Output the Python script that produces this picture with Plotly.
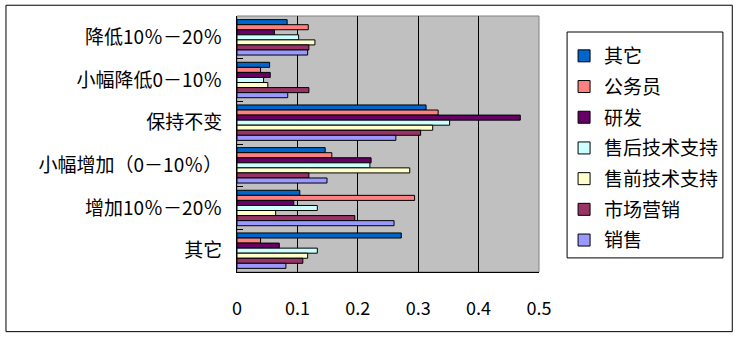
import plotly.graph_objects as go

categories = ["降低10％－20％", "小幅降低0－10％", "保持不变", "小幅增加（0－10％）", "增加10％－20％", "其它"]
series_names = ["其它", "公务员", "研发", "售后技术支持", "售前技术支持", "市场营销", "销售"]
colors = ["#0066CC", "#FF8080", "#660066", "#CCFFFF", "#FFFFCC", "#993366", "#9999FF"]

v_qita = [0.083, 0.054, 0.313, 0.146, 0.104, 0.272]
v_gongwuyuan = [0.118, 0.039, 0.333, 0.157, 0.294, 0.039]
v_yanfa = [0.062, 0.055, 0.469, 0.222, 0.094, 0.070]
v_shouhou = [0.102, 0.044, 0.352, 0.220, 0.133, 0.133]
v_shouqian = [0.129, 0.051, 0.324, 0.286, 0.064, 0.117]
v_shichang = [0.119, 0.119, 0.304, 0.119, 0.195, 0.109]
v_xiaoshou = [0.117, 0.084, 0.263, 0.149, 0.260, 0.081]

values = [v_qita, v_gongwuyuan, v_yanfa, v_shouhou, v_shouqian, v_shichang, v_xiaoshou]
xticks = [0, 0.1, 0.2, 0.3, 0.4, 0.5]
xticktext = ["0", "0.1", "0.2", "0.3", "0.4", "0.5"]

FONT = "Noto Sans CJK SC"

fig = go.Figure()
for i, (name, vals, c) in enumerate(zip(series_names, values, colors)):
    fig.add_trace(go.Bar(
        y=categories, x=vals, name=name, orientation="h",
        marker=dict(color=c, line=dict(color="black", width=1)),
        legendgroup=str(i),
    ))

fig.update_layout(
    width=736, height=338,
    margin=dict(l=237, r=197, t=16, b=66),
    paper_bgcolor="white",
    plot_bgcolor="#C0C0C0",
    barmode="group",
    bargap=0.17,
    bargroupgap=0,
    font=dict(family=FONT, size=18, color="black"),
    showlegend=True,
    legend=dict(
        x=1.083, y=0.918, xanchor="left", yanchor="top",
        borderwidth=0, bgcolor="rgba(0,0,0,0)",
        font=dict(family=FONT, size=19, color="black"),
        traceorder="grouped", tracegroupgap=3,
        itemwidth=30,
    ),
    xaxis=dict(
        range=[0, 0.5], tickvals=xticks, ticktext=xticktext,
        showgrid=True, gridcolor="black", gridwidth=1,
        zeroline=False, showline=True, linecolor="black", linewidth=1,
        ticks="", ticklabelstandoff=20,
        tickfont=dict(family=FONT, size=18),
    ),
    yaxis=dict(
        type="category", autorange="reversed",
        showline=True, linecolor="black", linewidth=1,
        ticks="inside", ticklen=6, tickcolor="black", tickson="boundaries",
        ticklabelstandoff=10, showgrid=False,
        tickfont=dict(family=FONT, size=19),
    ),
    shapes=[
        dict(type="rect", xref="paper", yref="paper", x0=0, x1=1, y0=0, y1=1,
             line=dict(color="#808080", width=1), fillcolor="rgba(0,0,0,0)", layer="below"),
        dict(type="rect", xref="paper", yref="paper", x0=-0.765, x1=1.64, y0=-0.233, y1=1.042,
             line=dict(color="black", width=1), fillcolor="rgba(0,0,0,0)"),
        dict(type="rect", xref="paper", yref="paper", x0=1.093, x1=1.609, y0=0.055, y1=0.9375,
             line=dict(color="black", width=1), fillcolor="white", layer="below"),
    ],
)

fig.write_html("out.html")
